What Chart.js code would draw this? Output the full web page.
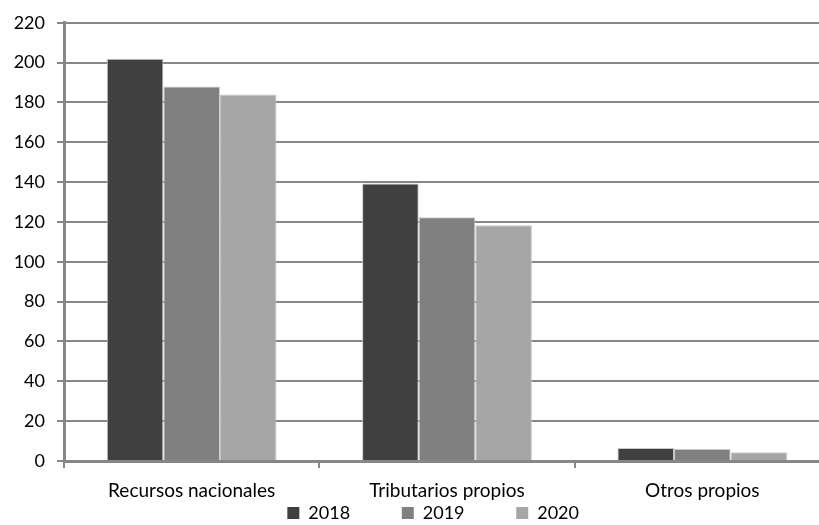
<!DOCTYPE html>
<html>
<head>
<meta charset="utf-8">
<script src="https://cdn.jsdelivr.net/npm/chart.js@4"></script>
<style>
  html, body { margin: 0; padding: 0; background: #fff; overflow: hidden; }
  canvas { display: block; }
</style>
</head>
<body>
<canvas id="chart" width="856" height="525"></canvas>
<script>
// ---- data ----
const categories = ['Recursos nacionales', 'Tributarios propios', 'Otros propios'];
const years = ['2018', '2019', '2020'];
const values2018 = [202, 139.3, 6.5];
const values2019 = [188, 122.4, 6];
const values2020 = [184, 118.3, 4.4];
const yTicks = [0, 20, 40, 60, 80, 100, 120, 140, 160, 180, 200, 220];

const barColors = ['#404040', '#808080', '#a6a6a6'];
const gridGray = '#878787';
const FONT = "Lato, 'Open Sans', sans-serif";

// legend items are spaced out with trailing spaces (legend padding would also grow its height);
// the last one keeps a shorter tail so the centred row lands where the reference has it
const legendGap = '           ';
const legendTail = '      ';

const series = [values2018, values2019, values2020];

const chart = new Chart(document.getElementById('chart'), {
    type: 'bar',
    data: {
        labels: categories,
        datasets: series.map((vals, i) => ({
            label: years[i],
            data: vals,
            backgroundColor: barColors[i],
            borderColor: '#c8c8c8',
            borderWidth: 1,
            categoryPercentage: 0.665,
            barPercentage: 1
        }))
    },
    options: {
        responsive: false,
        animation: false,
        // canvas is wider than the window: the plot runs off the right edge like the reference
        layout: { padding: { left: 0, right: 26, top: 22, bottom: 0 } },
        plugins: {
            title: { display: false },
            tooltip: { enabled: false },
            legend: {
                position: 'bottom',
                fullSize: false,
                maxHeight: 22,
                labels: {
                    boxWidth: 12,
                    boxHeight: 12,
                    padding: 1,
                    color: '#000',
                    font: { family: FONT, size: 18 },
                    generateLabels: (c) => Chart.defaults.plugins.legend.labels.generateLabels(c).map((item, i) => {
                        item.text = item.text + (i < years.length - 1 ? legendGap : legendTail);
                        item.lineWidth = 0;
                        return item;
                    })
                }
            }
        },
        scales: {
            x: {
                grid: {
                    offset: true,
                    drawOnChartArea: false,
                    drawTicks: true,
                    tickLength: 7,
                    color: gridGray,
                    lineWidth: 2
                },
                border: { color: gridGray, width: 3 },
                ticks: { color: '#000', padding: 11, font: { family: FONT, size: 19 } },
                afterFit: (scale) => { scale.height = 42; }
            },
            y: {
                min: 0,
                max: 220,
                afterBuildTicks: (scale) => { scale.ticks = yTicks.map(v => ({ value: v })); },
                grid: { color: gridGray, lineWidth: 2, tickLength: 7 },
                border: { color: gridGray, width: 3 },
                ticks: { color: '#000', padding: 12, font: { family: FONT, size: 18 } },
                afterFit: (scale) => { scale.width = 64; }
            }
        }
    }
});
</script>
</body>
</html>
